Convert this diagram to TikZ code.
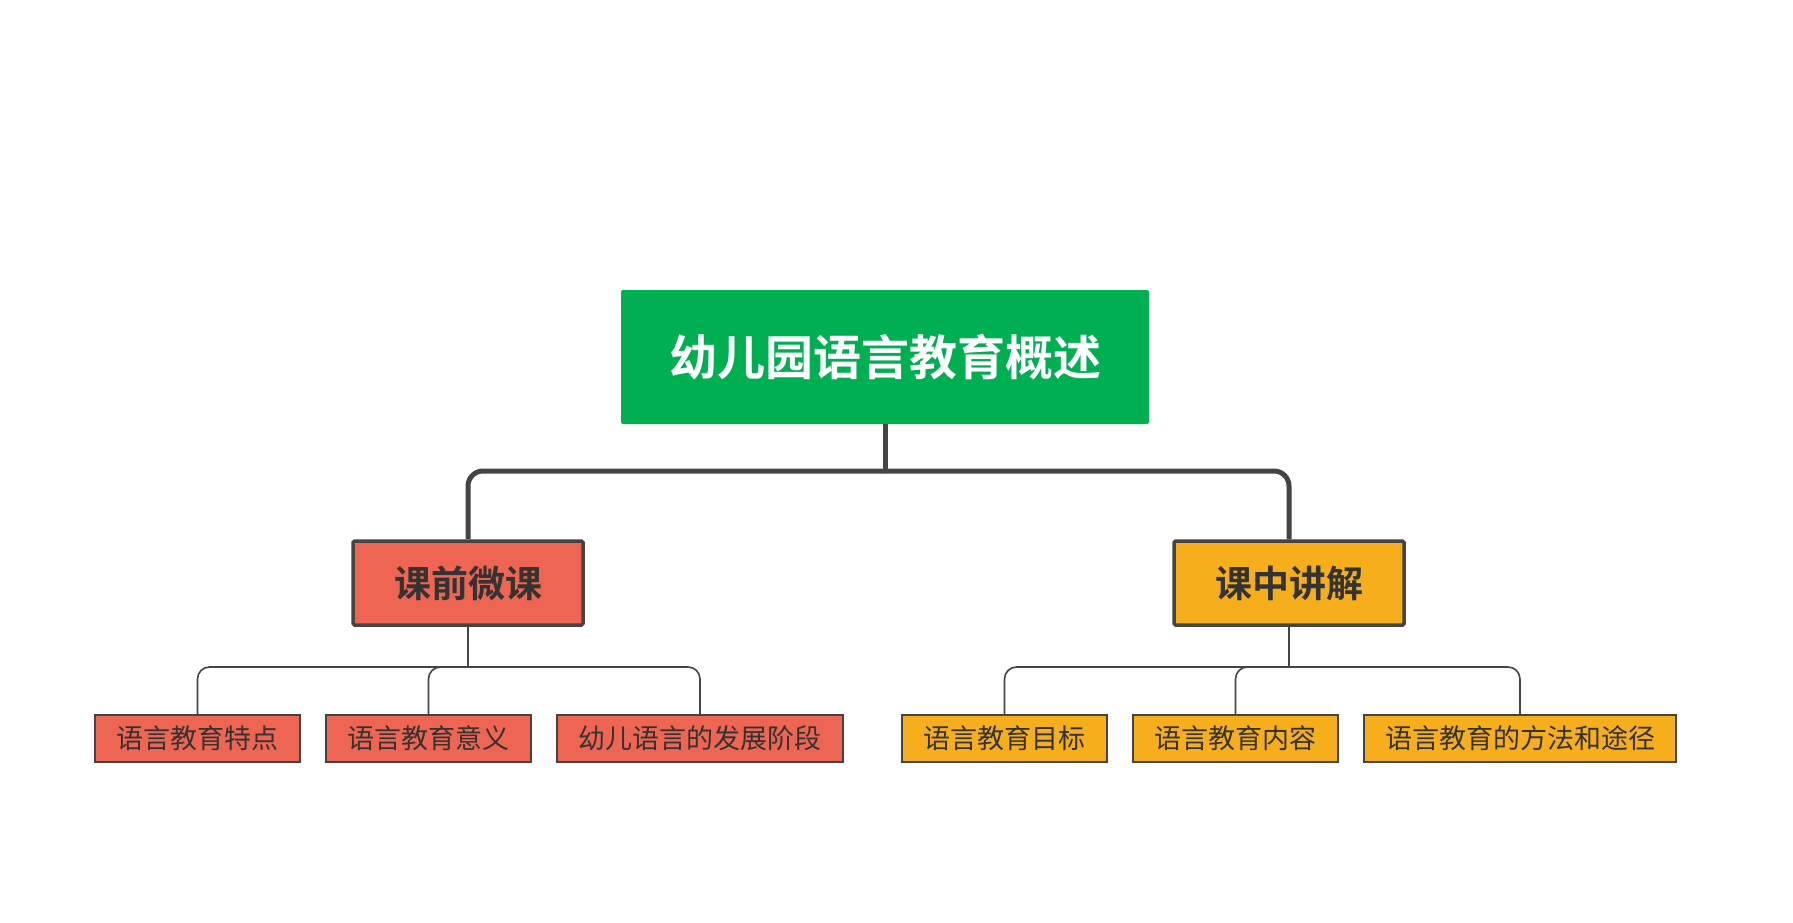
\documentclass[tikz,border=0pt]{standalone}
\usepackage{fontspec}
\newfontfamily\cjk{Noto Sans CJK SC}
\newfontfamily\cjkbold{Noto Sans CJK SC Bold}
\definecolor{rootgreen}{HTML}{00AF52}
\definecolor{coral}{HTML}{EF6553}
\definecolor{amber}{HTML}{F7AE1D}
\definecolor{edge}{HTML}{444444}
\definecolor{ink}{HTML}{333333}
\tikzset{
  rootbox/.style={fill=rootgreen, draw=none, rounded corners=2pt, inner sep=0pt,
    minimum width=528pt, minimum height=134pt, text=white, font=\cjkbold\fontsize{48}{52}\selectfont},
  midbox/.style={draw=edge, line width=3.5pt, rounded corners=1.5pt, inner sep=0pt,
    minimum width=230pt, minimum height=84pt, text=ink, font=\cjkbold\fontsize{37}{40}\selectfont},
  leafbox/.style={draw=edge, line width=1.5pt, inner sep=0pt,
    minimum height=47pt, text=ink, font=\cjk\fontsize{27}{30}\selectfont},
  mainlink/.style={draw=edge, line width=5pt},
  sublink/.style={draw=edge, line width=1.6pt},
}
\begin{document}
\begin{tikzpicture}[x=1pt,y=-1pt]
\useasboundingbox (0,0) rectangle (1793,923);
\node[rootbox] (root) at (885,357) {幼儿园语言教育概述};
\node[midbox, fill=coral] (c1) at (468,583) {课前微课};
\node[midbox, fill=amber] (c2) at (1289,583) {课中讲解};
\node[leafbox, fill=coral, minimum width=205pt] (l1) at (197.5,738.5) {语言教育特点};
\node[leafbox, fill=coral, minimum width=205pt] (l2) at (428.5,738.5) {语言教育意义};
\node[leafbox, fill=coral, minimum width=286pt] (l3) at (700,738.5) {幼儿语言的发展阶段};
\node[leafbox, fill=amber, minimum width=205pt] (r1) at (1004.5,738.5) {语言教育目标};
\node[leafbox, fill=amber, minimum width=205pt] (r2) at (1235.5,738.5) {语言教育内容};
\node[leafbox, fill=amber, minimum width=312pt] (r3) at (1520,738.5) {语言教育的方法和途径};
\coordinate (j0) at (885,471);
\coordinate (j1) at (468,667);
\coordinate (j2) at (1289,667);
\draw[mainlink] (root.south) -- (j0);
\draw[mainlink, rounded corners=15pt] (j0) -| (c1.north);
\draw[mainlink, rounded corners=15pt] (j0) -| (c2.north);
\draw[sublink] (c1.south) -- (j1);
\draw[sublink, rounded corners=12pt] (j1) -| (l1.north);
\draw[sublink, rounded corners=12pt] (j1) -| (l2.north);
\draw[sublink, rounded corners=12pt] (j1) -| (l3.north);
\draw[sublink] (c2.south) -- (j2);
\draw[sublink, rounded corners=12pt] (j2) -| (r1.north);
\draw[sublink, rounded corners=12pt] (j2) -| (r2.north);
\draw[sublink, rounded corners=12pt] (j2) -| (r3.north);
\end{tikzpicture}
\end{document}
